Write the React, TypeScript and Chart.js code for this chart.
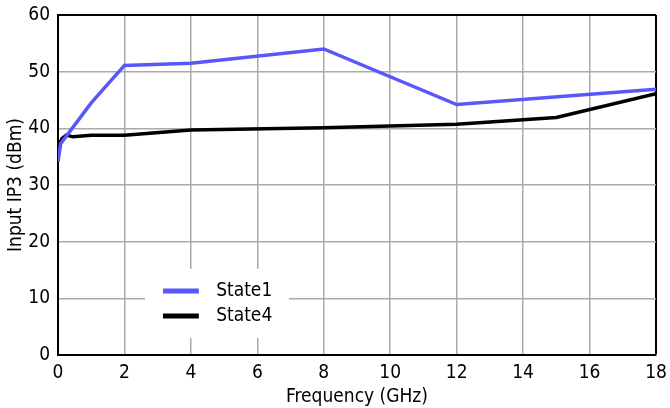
import React, { useEffect, useRef } from "react";
import { Chart, registerables } from "chart.js";

Chart.register(...registerables);

const state1Freq = [0, 0.08, 1, 2, 4, 8, 12, 18];
const state1Vals = [34.1, 37.3, 44.5, 51.1, 51.5, 54.0, 44.2, 46.9];
const state4Freq = [0, 0.05, 0.12, 0.25, 0.45, 1, 2, 4, 8, 12, 15, 18];
const state4Vals = [35.9, 37.3, 38.2, 38.8, 38.5, 38.8, 38.8, 39.7, 40.1, 40.7, 41.9, 46.1];
const xTicks = [0, 2, 4, 6, 8, 10, 12, 14, 16, 18];
const yTicks = [0, 10, 20, 30, 40, 50, 60];
const seriesNames = ["State1", "State4"];
const seriesColors = ["rgb(88,88,250)", "#000000"];

const FONT = "'DejaVu Sans Condensed', 'DejaVu Sans', Verdana, sans-serif";
const FSIZE = 19;

const legendPlugin = {
  id: "insideLegend",
  beforeDatasetsDraw(chart: any) {
    const ctx = chart.ctx;
    const xs = chart.scales.x;
    const ys = chart.scales.y;
    ctx.save();
    const left = xs.getPixelForValue(2.62);
    const right = xs.getPixelForValue(6.95);
    const top = ys.getPixelForValue(15.2);
    const bottom = ys.getPixelForValue(3.0);
    ctx.fillStyle = "#ffffff";
    ctx.fillRect(left, top, right - left, bottom - top);
    const x0 = xs.getPixelForValue(3.16);
    const x1 = xs.getPixelForValue(4.24);
    const tx = xs.getPixelForValue(4.76);
    seriesNames.forEach((name, i) => {
      const y = ys.getPixelForValue(11.3 - i * 4.4);
      ctx.strokeStyle = seriesColors[i];
      ctx.lineWidth = 5;
      ctx.beginPath();
      ctx.moveTo(x0, y);
      ctx.lineTo(x1, y);
      ctx.stroke();
      ctx.fillStyle = "#000";
      ctx.font = FSIZE + "px " + FONT;
      ctx.textBaseline = "middle";
      ctx.textAlign = "left";
      ctx.fillText(name, tx, y);
    });
    ctx.restore();
  },
};

export default function App() {
  const ref = useRef<HTMLCanvasElement | null>(null);
  useEffect(() => {
    if (!ref.current) return;
    const chart = new Chart(ref.current, {
      type: "line",
      data: {
        datasets: [
          {
            label: seriesNames[0],
            data: state1Freq.map((f, i) => ({ x: f, y: state1Vals[i] })),
            borderColor: seriesColors[0],
            borderWidth: 3.5,
            pointRadius: 0,
            tension: 0,
          },
          {
            label: seriesNames[1],
            data: state4Freq.map((f, i) => ({ x: f, y: state4Vals[i] })),
            borderColor: seriesColors[1],
            borderWidth: 3.5,
            pointRadius: 0,
            tension: 0,
          },
        ],
      },
      options: {
        animation: false,
        responsive: false,
        maintainAspectRatio: false,
        layout: { padding: { top: 15, right: 14, left: 0, bottom: 0 } },
        plugins: { legend: { display: false }, tooltip: { enabled: false } },
        scales: {
          x: {
            type: "linear",
            min: 0,
            max: 18,
            afterBuildTicks: (s: any) => {
              s.ticks = xTicks.map((v) => ({ value: v }));
            },
            afterFit: (s: any) => {
              s.height = 53;
              s.paddingLeft = 0;
              s.paddingRight = 0;
            },
            ticks: {
              color: "#000",
              font: { family: FONT, size: FSIZE },
              padding: 7,
              maxRotation: 0,
            },
            grid: {
              drawTicks: false,
              color: (c: any) => (c.tick && c.tick.value === 18 ? "#000" : "#aaaaaa"),
              lineWidth: (c: any) => (c.tick && c.tick.value === 18 ? 2 : 1.5),
            },
            border: { display: true, color: "#000", width: 2 },
            title: {
              display: true,
              text: "Frequency (GHz)",
              color: "#000",
              font: { family: FONT, size: FSIZE },
              padding: { top: 0, bottom: 0 },
            },
          },
          y: {
            type: "linear",
            min: 0,
            max: 60,
            afterBuildTicks: (s: any) => {
              s.ticks = yTicks.map((v) => ({ value: v }));
            },
            afterFit: (s: any) => {
              s.width = 58;
              s.paddingTop = 0;
              s.paddingBottom = 0;
            },
            ticks: {
              color: "#000",
              font: { family: FONT, size: FSIZE },
              padding: 8,
            },
            grid: {
              drawTicks: false,
              color: (c: any) => (c.tick && c.tick.value === 60 ? "#000" : "#aaaaaa"),
              lineWidth: (c: any) => (c.tick && c.tick.value === 60 ? 2 : 1.5),
            },
            border: { display: true, color: "#000", width: 2 },
            title: {
              display: true,
              text: "Input IP3 (dBm)",
              color: "#000",
              font: { family: FONT, size: FSIZE },
              padding: { top: 5, bottom: 0 },
            },
          },
        },
      },
      plugins: [legendPlugin],
    });
    return () => chart.destroy();
  }, []);
  return (
    <div style={{ position: "absolute", left: 0, top: 0, width: 670, height: 408, background: "#fff" }}>
      <canvas ref={ref} width={670} height={408} style={{ width: 670, height: 408 }} />
    </div>
  );
}
